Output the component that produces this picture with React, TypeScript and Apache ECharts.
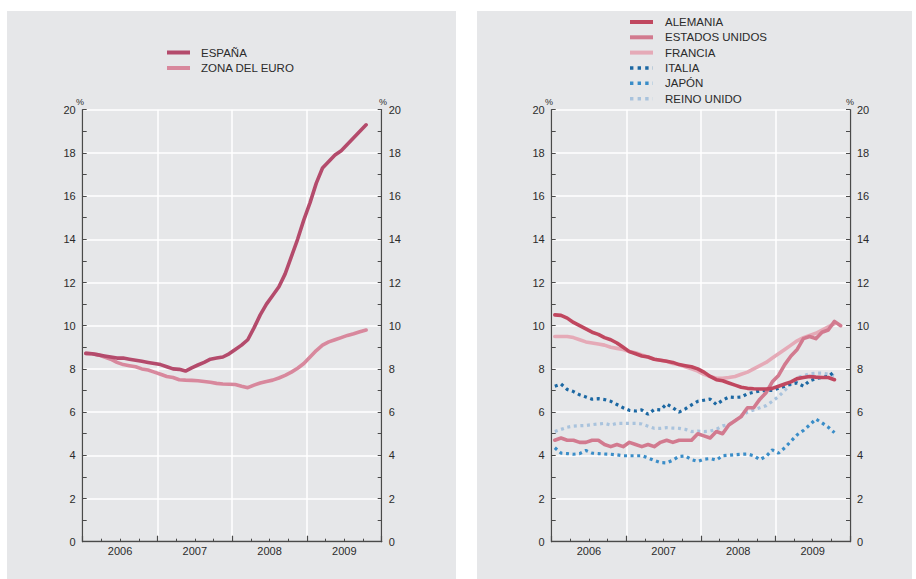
import React, { useEffect, useRef } from "react";
import * as echarts from "echarts";

// Monthly unemployment rates (%), first value = January 2006
const YEARS = ["2006", "2007", "2008", "2009"];
const Y_TICKS = [0, 2, 4, 6, 8, 10, 12, 14, 16, 18, 20];

const ESPANA = [
  8.72, 8.7, 8.65, 8.6, 8.55, 8.5, 8.5, 8.45, 8.4, 8.35, 8.3, 8.25,
  8.2, 8.1, 8.0, 7.98, 7.9, 8.05, 8.18, 8.3, 8.45, 8.5, 8.55, 8.7,
  8.9, 9.1, 9.35, 9.9, 10.5, 11.0, 11.4, 11.8, 12.4, 13.2, 14.0, 14.9,
  15.7, 16.6, 17.3, 17.6, 17.9, 18.1, 18.4, 18.7, 19.0, 19.3,
];
const ZONA_EURO = [
  8.72, 8.7, 8.65, 8.55, 8.45, 8.3, 8.2, 8.15, 8.1, 8.0, 7.95, 7.85,
  7.75, 7.65, 7.6, 7.5, 7.48, 7.47, 7.45, 7.42, 7.38, 7.33, 7.3, 7.29,
  7.28, 7.2, 7.13, 7.25, 7.35, 7.42, 7.48, 7.58, 7.7, 7.85, 8.03, 8.25,
  8.55, 8.85, 9.1, 9.25, 9.35, 9.45, 9.55, 9.63, 9.72, 9.8,
];
const ALEMANIA = [
  10.5, 10.48, 10.35, 10.15, 10.0, 9.85, 9.7, 9.6, 9.45, 9.35, 9.2, 9.0,
  8.8, 8.7, 8.6, 8.55, 8.45, 8.4, 8.35, 8.3, 8.2, 8.15, 8.1, 8.0,
  7.85, 7.65, 7.5, 7.45, 7.35, 7.25, 7.15, 7.1, 7.08, 7.07, 7.07, 7.1,
  7.2, 7.3, 7.4, 7.55, 7.6, 7.65, 7.62, 7.6, 7.6, 7.5,
];
const ESTADOS_UNIDOS = [
  4.7, 4.8, 4.7, 4.7, 4.6, 4.6, 4.7, 4.7, 4.5, 4.4, 4.5, 4.4,
  4.6, 4.5, 4.4, 4.5, 4.4, 4.6, 4.7, 4.6, 4.7, 4.7, 4.7, 5.0,
  4.9, 4.8, 5.1, 5.0, 5.4, 5.6, 5.8, 6.2, 6.2, 6.6, 6.9, 7.4,
  7.7, 8.2, 8.6, 8.9, 9.4, 9.5, 9.4, 9.7, 9.8, 10.2, 10.0,
];
const FRANCIA = [
  9.5, 9.5, 9.5, 9.45, 9.35, 9.25, 9.2, 9.15, 9.1, 9.0, 8.95, 8.9,
  8.8, 8.75, 8.65, 8.55, 8.45, 8.4, 8.35, 8.25, 8.2, 8.1, 8.0, 7.9,
  7.75, 7.65, 7.57, 7.56, 7.6, 7.65, 7.75, 7.85, 8.0, 8.15, 8.3, 8.5,
  8.7, 8.9, 9.1, 9.3, 9.45, 9.55, 9.65, 9.8, 9.95, 10.1,
];
const ITALIA = [
  7.2, 7.3, 7.05, 6.95, 6.8, 6.7, 6.6, 6.62, 6.58, 6.5, 6.35, 6.2,
  6.08, 6.05, 6.1, 5.9, 6.12, 6.1, 6.38, 6.2, 6.0, 6.15, 6.33, 6.5,
  6.55, 6.6, 6.35, 6.55, 6.7, 6.68, 6.7, 6.85, 6.92, 6.98, 7.0, 7.0,
  7.1, 7.2, 7.3, 7.35, 7.2, 7.45, 7.55, 7.6, 7.65, 7.87,
];
const JAPON = [
  4.35, 4.1, 4.08, 4.05, 4.08, 4.22, 4.1, 4.08, 4.06, 4.05, 4.02, 3.98,
  3.98, 3.98, 3.98, 3.88, 3.76, 3.66, 3.65, 3.78, 3.95, 3.97, 3.8, 3.72,
  3.82, 3.85, 3.78, 3.98, 4.0, 4.03, 4.05, 4.06, 3.98, 3.8, 3.95, 4.25,
  4.1, 4.35, 4.65, 4.95, 5.15, 5.4, 5.68, 5.5, 5.3, 5.05,
];
const REINO_UNIDO = [
  5.1, 5.2, 5.3, 5.35, 5.37, 5.38, 5.42, 5.45, 5.48, 5.4, 5.48, 5.48,
  5.48, 5.48, 5.45, 5.35, 5.25, 5.25, 5.28, 5.26, 5.25, 5.2, 5.1, 5.12,
  5.1, 5.12, 5.2, 5.36, 5.42, 5.6, 5.8, 6.0, 6.1, 6.2, 6.3, 6.5,
  6.72, 7.0, 7.3, 7.6, 7.67, 7.78, 7.8, 7.8, 7.75, 7.7,
];

const FONT = "'Liberation Sans', Arial, Helvetica, sans-serif";
const PANEL_BG = "#e6e7e9";
const AXIS_COLOR = "#4a4a4a";
const TEXT_COLOR = "#2b2b2b";

const C_ESP = "#b44b6c";
const C_EUR = "#d8889d";
const C_ALE = "#c0475f";
const C_USA = "#d27a8f";
const C_FRA = "#e5aab7";
const C_ITA = "#1c68a3";
const C_JAP = "#3a8dc8";
const C_RU = "#a9c3dd";

const toPoints = (arr: number[]) => arr.map((v, i) => [i + 0.5, v]);

function mainX(gridIndex: number) {
  return {
    type: "value",
    gridIndex,
    min: 0,
    max: 48,
    interval: 12,
    axisLine: { show: true, onZero: false, lineStyle: { color: AXIS_COLOR, width: 1.3 } },
    axisTick: { show: true, inside: true, length: 6, lineStyle: { color: AXIS_COLOR, width: 1.2 } },
    minorTick: { show: true, splitNumber: 4, length: 3, lineStyle: { color: AXIS_COLOR, width: 1 } },
    splitLine: { show: true, lineStyle: { color: "#ffffff", width: 1.5 } },
    axisLabel: { show: false },
  };
}
function labelX(gridIndex: number) {
  return {
    type: "value",
    gridIndex,
    position: "bottom",
    min: 0,
    max: 48,
    interval: 6,
    axisLine: { show: false },
    axisTick: { show: false },
    splitLine: { show: false },
    axisLabel: {
      show: true,
      margin: 4,
      fontSize: 11,
      fontFamily: FONT,
      color: TEXT_COLOR,
      formatter: (v: number) => (v % 12 === 6 ? YEARS[Math.floor(v / 12)] : ""),
    },
  };
}
function yAx(gridIndex: number, position: "left" | "right", split: boolean) {
  return {
    type: "value",
    gridIndex,
    position,
    min: Y_TICKS[0],
    max: Y_TICKS[Y_TICKS.length - 1],
    interval: 2,
    axisLine: { show: true, onZero: false, lineStyle: { color: AXIS_COLOR, width: 1.3 } },
    axisTick: { show: true, inside: true, length: 4, lineStyle: { color: AXIS_COLOR, width: 1 } },
    minorTick: { show: true, splitNumber: 2, length: 4, lineStyle: { color: AXIS_COLOR, width: 1 } },
    splitLine: { show: split, lineStyle: { color: "#ffffff", width: 1.5 } },
    axisLabel: { show: true, margin: 7, fontSize: 11, fontFamily: FONT, color: TEXT_COLOR },
  };
}

function line(name: string, data: number[], color: string, idx: number, dotted: boolean, z: number) {
  return {
    name,
    type: "line",
    xAxisIndex: idx * 2,
    yAxisIndex: idx * 2,
    data: toPoints(data),
    showSymbol: false,
    symbol: "none",
    z,
    lineStyle: dotted
      ? { color, width: 3.2, type: [3, 3.6], cap: "butt" }
      : { color, width: 3.6, cap: "round", join: "round" },
  };
}

function legendItem(x1: number, x2: number, tx: number, y: number, label: string, color: string, dotted: boolean) {
  return [
    {
      type: "line",
      shape: { x1, y1: y, x2, y2: y },
      style: dotted
        ? { stroke: color, lineWidth: 3.4, lineDash: [3.4, 4.2] }
        : { stroke: color, lineWidth: 4 },
      z: 10,
    },
    {
      type: "text",
      x: tx,
      y,
      style: { text: label, fill: TEXT_COLOR, font: `11.5px ${FONT}`, verticalAlign: "middle", align: "left" },
      z: 10,
    },
  ];
}

export default function App() {
  const ref = useRef<HTMLDivElement>(null);
  useEffect(() => {
    if (!ref.current) return;
    const chart = echarts.init(ref.current, null, { renderer: "svg" });
    const pct = (x: number) => ({
      type: "text",
      x,
      y: 102,
      style: { text: "%", fill: TEXT_COLOR, font: `9px ${FONT}`, align: "center", verticalAlign: "middle" },
      z: 10,
    });
    chart.setOption({
      animation: false,
      backgroundColor: "#ffffff",
      graphic: [
        { type: "rect", shape: { x: 7, y: 11, width: 449, height: 568 }, style: { fill: PANEL_BG }, z: -10, silent: true },
        { type: "rect", shape: { x: 477, y: 11, width: 435, height: 568 }, style: { fill: PANEL_BG }, z: -10, silent: true },
        pct(80),
        pct(383),
        pct(549),
        pct(850),
        ...legendItem(167, 190, 201, 52.5, "ESPAÑA", C_ESP, false),
        ...legendItem(167, 190, 201, 68, "ZONA DEL EURO", C_EUR, false),
        ...legendItem(630, 653, 665, 22, "ALEMANIA", C_ALE, false),
        ...legendItem(630, 653, 665, 37.3, "ESTADOS UNIDOS", C_USA, false),
        ...legendItem(630, 653, 665, 52.6, "FRANCIA", C_FRA, false),
        ...legendItem(630, 653, 665, 68, "ITALIA", C_ITA, true),
        ...legendItem(630, 653, 665, 83.3, "JAPÓN", C_JAP, true),
        ...legendItem(630, 653, 665, 98.8, "REINO UNIDO", C_RU, true),
      ],
      grid: [
        { left: 82.7, top: 109.7, width: 299, height: 432, show: false },
        { left: 551.7, top: 109.7, width: 298.3, height: 432, show: false },
      ],
      xAxis: [mainX(0), labelX(0), mainX(1), labelX(1)],
      yAxis: [yAx(0, "left", true), yAx(0, "right", false), yAx(1, "left", true), yAx(1, "right", false)],
      series: [
        line("ZONA DEL EURO", ZONA_EURO, C_EUR, 0, false, 3),
        line("ESPAÑA", ESPANA, C_ESP, 0, false, 4),
        line("REINO UNIDO", REINO_UNIDO, C_RU, 1, true, 3),
        line("JAPÓN", JAPON, C_JAP, 1, true, 3),
        line("ITALIA", ITALIA, C_ITA, 1, true, 4),
        line("FRANCIA", FRANCIA, C_FRA, 1, false, 5),
        line("ESTADOS UNIDOS", ESTADOS_UNIDOS, C_USA, 1, false, 6),
        line("ALEMANIA", ALEMANIA, C_ALE, 1, false, 7),
      ],
    });
    return () => chart.dispose();
  }, []);
  return (
    <div
      ref={ref}
      style={{ position: "absolute", left: 0, top: 0, width: 916, height: 579 }}
    />
  );
}
